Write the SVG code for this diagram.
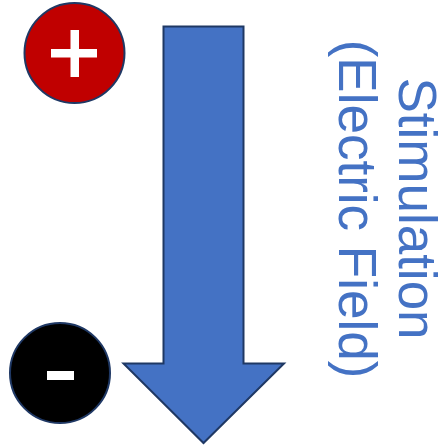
<svg xmlns="http://www.w3.org/2000/svg" width="444" height="448" viewBox="0 0 444 448">
<style>
.lbl{font-family:"Liberation Sans",Arial,sans-serif;font-size:53px;fill:#4472C4;text-anchor:middle}
.sign{fill:#FFFFFF}
</style>
<rect width="444" height="448" fill="#FFFFFF"/>
<g id="positive">
<circle cx="74.5" cy="53" r="50" fill="#C00000" stroke="#1F3864" stroke-width="2"/>
<rect class="sign" x="51" y="49" width="46" height="8.5"/>
<rect class="sign" x="70.5" y="30" width="8.5" height="47"/>
</g>
<g id="negative">
<circle cx="60" cy="373" r="50" fill="#000000" stroke="#1F3864" stroke-width="2"/>
<rect class="sign" x="47" y="371" width="27" height="9"/>
</g>
<g id="connectors">
<path id="field-arrow" d="M163.5 26.5 H243.5 V363.5 H284 L203.5 443 L123.5 363.5 H163.5 Z" fill="#4472C4" stroke="#1F3864" stroke-width="2" stroke-linejoin="miter"/>
</g>
<g id="label">
<text class="lbl" transform="translate(399,208.5) rotate(90)">Stimulation</text>
<text class="lbl" transform="translate(339,209) rotate(90)">(Electric Field)</text>
</g>
</svg>
